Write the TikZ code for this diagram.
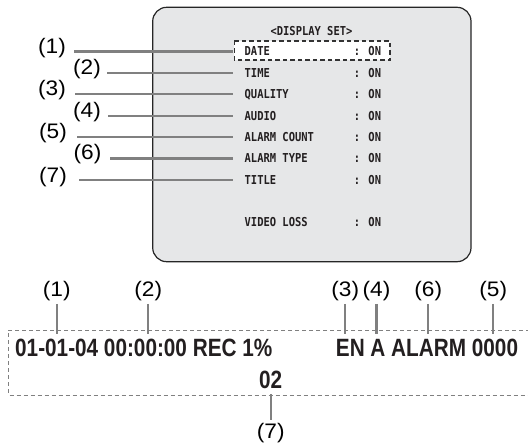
\documentclass[tikz,border=0pt]{standalone}
\usepackage{fontspec}
\newfontfamily\labelfont[FakeStretch=1.08]{Liberation Sans}
\newfontfamily\osdfont[FakeStretch=0.83]{Liberation Sans}
\newfontfamily\menufont[FakeStretch=0.85]{DejaVu Sans Mono}
\definecolor{screenfill}{HTML}{E6E7E8}
\definecolor{leadgray}{HTML}{808080}
\definecolor{osdtext}{HTML}{231F20}

\begin{document}
\begin{tikzpicture}[x=1pt, y=-1pt,
    lead/.style={draw=leadgray, line width=2.2pt},
    num/.style={font=\labelfont\fontsize{21}{21}\selectfont, inner sep=3pt},
    item/.style={anchor=base west, inner xsep=11.5pt, inner ysep=0pt, text height=9pt, text depth=0pt,
        font=\menufont\bfseries\fontsize{12.3}{12.3}\selectfont, text=osdtext},
    state/.style={anchor=base west, inner sep=0pt, text height=9pt, text depth=0pt,
        font=\menufont\bfseries\fontsize{12.3}{12.3}\selectfont, text=osdtext},
    osd/.style={anchor=base west, inner xsep=0pt, inner ysep=5.5pt,
        font=\osdfont\bfseries\fontsize{25}{25}\selectfont, text=osdtext}]
    \useasboundingbox (0,0) rectangle (528,443);
    \filldraw[fill=screenfill, draw=black!85, line width=1.2pt, rounded corners=14pt] (152.7,7.3) rectangle (471,261.7);
    \filldraw[fill=white, draw=black!80, line width=1.1pt, dash pattern=on 4.5pt off 3pt] (234.3,41) rectangle (390,60);
    \draw[leadgray, line width=0.9pt, dash pattern=on 4pt off 3pt] (530,330) -- (8.3,330) -- (8.3,395) -- (530,395);
    \node[state, anchor=base] (heading) at (311.5,36) {<DISPLAY SET>};
    \node[item] (date) at (233,56) {DATE};
    \node[item] (time) at (233,77.4) {TIME};
    \node[item] (quality) at (233,98.8) {QUALITY};
    \node[item] (audio) at (233,120.2) {AUDIO};
    \node[item] (alarmcount) at (233,141.6) {ALARM COUNT};
    \node[item] (alarmtype) at (233,163) {ALARM TYPE};
    \node[item] (titleitem) at (233,184.4) {TITLE};
    \node[item] (videoloss) at (233,227) {VIDEO LOSS};
    \node[state] (on1) at (353.6,56) {: ON};
    \node[state] (on2) at (353.6,77.4) {: ON};
    \node[state] (on3) at (353.6,98.8) {: ON};
    \node[state] (on4) at (353.6,120.2) {: ON};
    \node[state] (on5) at (353.6,141.6) {: ON};
    \node[state] (on6) at (353.6,163) {: ON};
    \node[state] (on7) at (353.6,184.4) {: ON};
    \node[state] (on8) at (353.6,227) {: ON};
    \node[num] (l1) at (52,48) {(1)};
    \node[num] (l2) at (87,69) {(2)};
    \node[num] (l3) at (52,90.5) {(3)};
    \node[num] (l4) at (87,112) {(4)};
    \node[num] (l5) at (53,133) {(5)};
    \node[num] (l6) at (87.5,154.5) {(6)};
    \node[num] (l7) at (53,177) {(7)};
    \coordinate (s1) at (74,0);
    \coordinate (s2) at (107,0);
    \coordinate (s3) at (75,0);
    \coordinate (s4) at (108,0);
    \coordinate (s5) at (77,0);
    \coordinate (s6) at (110,0);
    \coordinate (s7) at (79,0);
    \draw[lead] (s1 |- date.west) -- (date.west);
    \draw[lead] (s2 |- time.west) -- (time.west);
    \draw[lead] (s3 |- quality.west) -- (quality.west);
    \draw[lead] (s4 |- audio.west) -- (audio.west);
    \draw[lead] (s5 |- alarmcount.west) -- (alarmcount.west);
    \draw[lead] (s6 |- alarmtype.west) -- (alarmtype.west);
    \draw[lead] (s7 |- titleitem.west) -- (titleitem.west);
    \node[osd] (stamp) at (15,356.7) {01-01-04 00:00:00 REC 1\%};
    \node[osd, anchor=base east] (status) at (518.3,356.7) {EN A ALARM 0000};
    \node[osd, anchor=base] (camno) at (270.7,388.3) {02};
    \node[num] (b1) at (56.7,291) {(1)};
    \node[num] (b2) at (148.3,291) {(2)};
    \node[num] (b3) at (345.3,291) {(3)};
    \node[num] (b4) at (376.5,291) {(4)};
    \node[num] (b6) at (428.3,291) {(6)};
    \node[num] (b5) at (493.3,291) {(5)};
    \node[num] (b7) at (270.7,433.3) {(7)};
    \draw[lead] (b1.south) -- (b1.south |- stamp.north);
    \draw[lead] (b2.south) -- (b2.south |- stamp.north);
    \draw[lead] (b3.south) -- (b3.south |- status.north);
    \draw[lead] (b4.south) -- (b4.south |- status.north);
    \draw[lead] (b6.south) -- (b6.south |- status.north);
    \draw[lead] (b5.south) -- (b5.south |- status.north);
    \draw[lead] (camno.south) -- (b7.north);
\end{tikzpicture}
\end{document}
